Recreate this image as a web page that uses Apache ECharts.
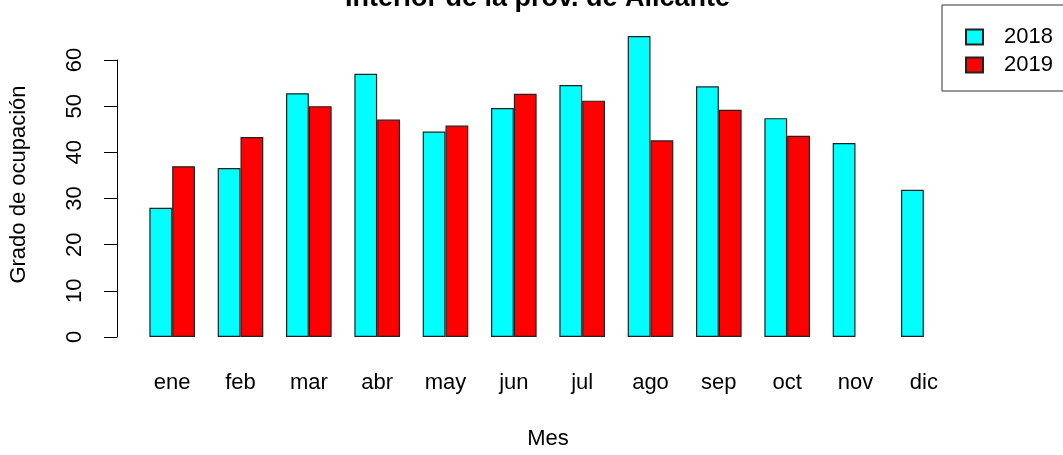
<!DOCTYPE html>
<html>
<head>
<meta charset="utf-8">
<script src="https://cdn.jsdelivr.net/npm/echarts@6/dist/echarts.min.js"></script>
<style>
html,body{margin:0;padding:0;background:#fff;}
#chart{width:1063px;height:455px;}
</style>
</head>
<body>
<div id="chart"></div>
<script>
var months = ['ene','feb','mar','abr','may','jun','jul','ago','sep','oct','nov','dic'];
var values2018 = [28.0, 36.6, 52.8, 57.0, 44.5, 49.6, 54.6, 65.2, 54.3, 47.4, 42.0, 31.9];
var values2019 = [37.0, 43.3, 50.0, 47.1, 45.8, 52.7, 51.2, 42.6, 49.2, 43.6, null, null];
var yTicks = [0, 10, 20, 30, 40, 50, 60];
var FONT = '"Liberation Sans", Arial, sans-serif';

var chart = echarts.init(document.getElementById('chart'), null, {renderer: 'canvas'});
chart.setOption({
  backgroundColor: '#fff',
  animation: false,
  title: {
    text: 'Interior de la prov. de Alicante',
    left: 345, top: -15, padding: 0,
    textStyle: {fontFamily: FONT, fontSize: 27, fontWeight: 'bold', color: '#000'}
  },
  legend: {
    orient: 'vertical',
    left: 942, top: 5,
    padding: [21, 30, 15, 23],
    itemGap: 6,
    itemWidth: 17, itemHeight: 15,
    borderColor: '#333', borderWidth: 1, borderRadius: 0,
    icon: 'rect',
    textStyle: {fontFamily: FONT, fontSize: 22, color: '#000', padding: [0, 0, 0, 16]},
    data: ['2018', '2019']
  },
  grid: {left: 136, right: 105, top: 60, bottom: 117, containLabel: false},
  xAxis: {
    type: 'category',
    data: months,
    name: 'Mes',
    nameLocation: 'middle',
    nameGap: 91,
    nameTextStyle: {fontFamily: FONT, fontSize: 22, color: '#000'},
    axisLine: {show: false},
    axisTick: {show: false},
    axisLabel: {fontFamily: FONT, fontSize: 22, color: '#000', margin: 35, interval: 0}
  },
  yAxis: {
    type: 'value',
    min: yTicks[0], max: yTicks[yTicks.length - 1], interval: 10,
    offset: 21,
    name: 'Grado de ocupación',
    nameLocation: 'middle',
    nameRotate: 90,
    nameGap: 87,
    nameTextStyle: {fontFamily: FONT, fontSize: 22, color: '#000', padding: [0, 0, 0, 28]},
    axisLine: {show: true, lineStyle: {color: '#000', width: 1}},
    axisTick: {show: true, length: 13, lineStyle: {color: '#000', width: 1}},
    axisLabel: {fontFamily: FONT, fontSize: 22, color: '#000', rotate: 90, margin: 31},
    splitLine: {show: false}
  },
  series: [
    {
      name: '2018', type: 'bar', data: values2018,
      barWidth: 22.8, barGap: '0%', clip: false,
      itemStyle: {color: '#00FFFF', borderColor: '#222', borderWidth: 1.2}
    },
    {
      name: '2019', type: 'bar', data: values2019,
      barWidth: 22.8, barGap: '0%', clip: false,
      itemStyle: {color: '#FF0000', borderColor: '#222', borderWidth: 1.2}
    }
  ]
});
</script>
</body>
</html>
